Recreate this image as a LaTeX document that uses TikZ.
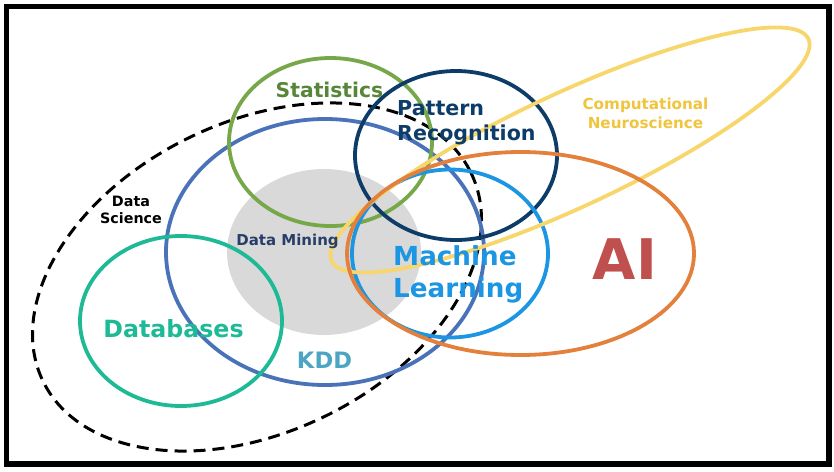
\documentclass[tikz,border=0pt]{standalone}
\usepackage{fontspec}
\setmainfont{DejaVu Sans}
\usepackage{xcolor}
\definecolor{kddline}{RGB}{74,114,184}
\definecolor{kddtext}{RGB}{75,165,195}
\definecolor{statline}{RGB}{118,168,74}
\definecolor{stattext}{RGB}{88,134,56}
\definecolor{pattblue}{RGB}{14,60,104}
\definecolor{mlblue}{RGB}{28,150,226}
\definecolor{aiorange}{RGB}{226,128,60}
\definecolor{aired}{RGB}{192,80,77}
\definecolor{neuroline}{RGB}{247,214,108}
\definecolor{neurotext}{RGB}{240,196,60}
\definecolor{dbteal}{RGB}{30,186,150}
\definecolor{minegray}{RGB}{217,217,217}
\definecolor{minetext}{RGB}{38,62,104}

\begin{document}
\begin{tikzpicture}[x=1pt,y=-1pt,
    ring/.style={line width=3.8pt},
    lbl/.style={inner sep=0pt,font=\bfseries}]
    \useasboundingbox (0,0) rectangle (834,471);
    \draw[line width=5.5pt] (6.5,6.5) rectangle (829,464);

    % centres of the sets
    \coordinate (mine) at (324,252);
    \coordinate (sci) at (257,277);
    \coordinate (kdd) at (325,252);
    \coordinate (stat) at (330.5,142);
    \coordinate (db) at (181,321);
    \coordinate (patt) at (456,155.5);
    \coordinate (ml) at (450,253.5);
    \coordinate (neuro) at (570,150);
    \coordinate (ai) at (520.5,253.5);

    \fill[minegray] (mine) ellipse (97 and 83);
    \draw[line width=3pt,dash pattern=on 12pt off 7pt,rotate around={26:(sci)}] (sci) ellipse (238 and 155);
    \draw[ring,kddline] (kdd) ellipse (159 and 133);
    \draw[ring,statline] (stat) ellipse (101.5 and 84);
    \draw[ring,dbteal] (db) ellipse (101 and 85);
    \draw[ring,pattblue] (patt) ellipse (101 and 84.5);
    \draw[ring,mlblue] (ml) ellipse (98 and 84);
    \draw[ring,neuroline,rotate around={25:(neuro)}] (neuro) ellipse (263 and 57);
    \draw[ring,aiorange] (ai) ellipse (173.5 and 101.5);

    % labels (base of a two-line label is its last line)
    \node[lbl,anchor=base,text=stattext,font=\bfseries\fontsize{20.3}{24}\selectfont] (statlbl) at (329.5,97) {Statistics};
    \node[lbl,anchor=base west,align=left,text=pattblue,font=\bfseries\fontsize{20.6}{25}\selectfont] (pattlbl) at (397,140) {Pattern\\Recognition};
    \node[lbl,anchor=base,align=center,text=neurotext,font=\bfseries\fontsize{15.2}{19}\selectfont] (neurolbl) at (645.5,128) {Computational\\Neuroscience};
    \node[lbl,anchor=base,align=center,font=\bfseries\fontsize{14.3}{17}\selectfont] (scilbl) at (131,223) {Data\\Science};
    \node[lbl,anchor=base,text=minetext,font=\bfseries\fontsize{15}{19}\selectfont] (minelbl) at (287.5,245) {Data Mining};
    \node[lbl,anchor=base west,align=left,text=mlblue,font=\bfseries\fontsize{26.2}{32}\selectfont] (mllbl) at (393,297) {Machine\\Learning};
    \node[lbl,anchor=base,text=aired,font=\bfseries\fontsize{56}{60}\selectfont] (ailbl) at (625,279) {AI};
    \node[lbl,anchor=base,text=dbteal,font=\bfseries\fontsize{23.7}{28}\selectfont] (dblbl) at (173.5,337) {Databases};
    \node[lbl,anchor=base,text=kddtext,font=\bfseries\fontsize{22.6}{26}\selectfont] (kddlbl) at (324.5,368) {KDD};
\end{tikzpicture}
\end{document}
